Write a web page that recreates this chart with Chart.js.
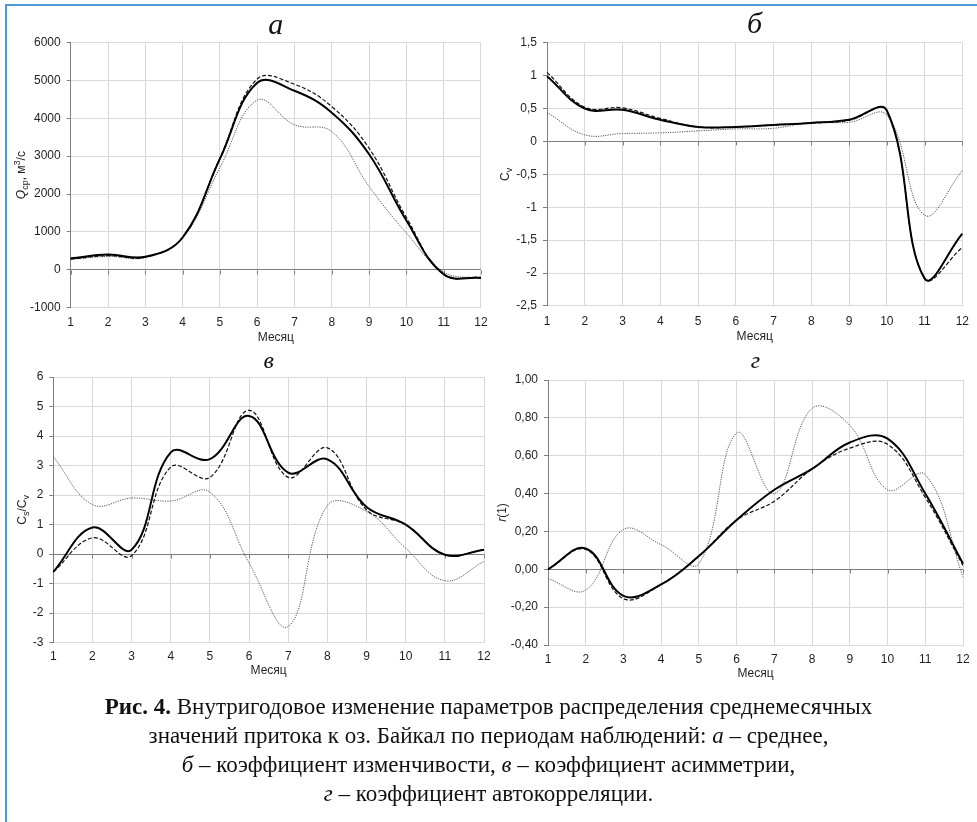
<!DOCTYPE html>
<html>
<head>
<meta charset="utf-8">
<script src="https://cdn.jsdelivr.net/npm/chart.js@4/dist/chart.umd.min.js"></script>
<style>
  body { margin: 0; background: #fff; }
  #wrap { position: relative; width: 977px; height: 822px; overflow: hidden; background: #fff; }
  #frame { position: absolute; left: 5px; top: 4px; width: 1000px; height: 900px; border: 2px solid #4c9ad8; }
  canvas.c { position: absolute; left: 0; top: 0; }
  #caption { position: absolute; left: 0; top: 692px; width: 977px; text-align: center;
             font-family: "Liberation Serif", serif; font-size: 23px; line-height: 29px; color: #111; }
</style>
</head>
<body>
<div id="wrap">
  <div id="frame"></div>
  <canvas class="c" id="chA" width="977" height="822"></canvas>
  <canvas class="c" id="chB" width="977" height="822"></canvas>
  <canvas class="c" id="chV" width="977" height="822"></canvas>
  <canvas class="c" id="chG" width="977" height="822"></canvas>
  <div id="caption"><b>Рис. 4.</b> Внутригодовое изменение параметров распределения среднемесячных<br>значений притока к оз. Байкал по периодам наблюдений: <i>а</i> – среднее,<br><i>б</i> – коэффициент изменчивости, <i>в</i> – коэффициент асимметрии,<br><i>г</i> – коэффициент автокорреляции.</div>
</div>
<script>
// months on the x axis
var months = ['1','2','3','4','5','6','7','8','9','10','11','12'];

// а – mean monthly inflow, m3/s
var meanSolid  = [300, 400, 340, 850, 2930, 4940, 4730, 4150, 3050, 1300, -120, -220];
var meanDashed = [280, 370, 330, 850, 2950, 5040, 4900, 4310, 3210, 1380, -130, -200];
var meanDotted = [270, 350, 320, 830, 2700, 4480, 3830, 3650, 2200, 970, -60, -230];

// б – coefficient of variation
var cvSolid  = [0.99, 0.50, 0.48, 0.33, 0.22, 0.22, 0.25, 0.28, 0.33, 0.47, -2.08, -1.40];
var cvDashed = [1.05, 0.52, 0.51, 0.35, 0.22, 0.22, 0.25, 0.28, 0.32, 0.47, -2.08, -1.61];
var cvDotted = [0.44, 0.10, 0.12, 0.13, 0.16, 0.19, 0.20, 0.29, 0.29, 0.40, -1.12, -0.44];

// в – Cs/Cv
var csSolid  = [-0.6, 0.9, 0.15, 3.45, 3.22, 4.68, 2.76, 3.21, 1.6, 1.0, -0.02, 0.15];
var csDashed = [-0.6, 0.55, -0.05, 2.95, 2.6, 4.87, 2.6, 3.6, 1.5, 1.0, -0.02, 0.15];
var csDotted = [3.3, 1.68, 1.9, 1.8, 2.1, -0.3, -2.45, 1.65, 1.45, 0.2, -0.9, -0.25];

// г – autocorrelation r(1)
var rSolid  = [0.0, 0.11, -0.14, -0.08, 0.07, 0.26, 0.42, 0.53, 0.67, 0.69, 0.40, 0.03];
var rDashed = [0.0, 0.105, -0.155, -0.08, 0.07, 0.26, 0.36, 0.53, 0.64, 0.66, 0.38, 0.02];
var rDotted = [-0.05, -0.11, 0.21, 0.13, 0.03, 0.72, 0.40, 0.85, 0.76, 0.42, 0.50, -0.04];

Chart.defaults.font.family = '"Liberation Sans", Arial, sans-serif';
Chart.defaults.font.size = 12;
Chart.defaults.color = '#1f1f1f';

var TENSION = 0.4;

// rotated y axis title with sub/superscripts
var yTitlePlugin = {
  id: 'yTitle',
  afterDraw: function(chart, args, opts) {
    var ctx = chart.ctx, area = chart.chartArea;
    var parts = opts.parts;
    if (!parts) return;
    var fontFor = function(p) {
      return (p.italic ? 'italic ' : '') + ((p.sub || p.sup) ? 9 : 12) + 'px "Liberation Sans", Arial, sans-serif';
    };
    ctx.save();
    ctx.translate(opts.x, (area.top + area.bottom) / 2);
    ctx.rotate(-Math.PI / 2);
    ctx.fillStyle = '#1f1f1f';
    ctx.textBaseline = 'middle';
    ctx.textAlign = 'left';
    var total = 0;
    parts.forEach(function(p) { ctx.font = fontFor(p); total += ctx.measureText(p.t).width; });
    var cx = -total / 2;
    parts.forEach(function(p) {
      ctx.font = fontFor(p);
      var dy = p.sub ? 3.5 : (p.sup ? -4 : 0);
      ctx.fillText(p.t, cx, dy);
      cx += ctx.measureText(p.t).width;
    });
    ctx.restore();
  }
};

// small tick marks hanging from the zero line, like the excel axis
var zeroTicksPlugin = {
  id: 'zeroTicks',
  beforeDatasetsDraw: function(chart) {
    var ctx = chart.ctx, xs = chart.scales.x, ys = chart.scales.y;
    var y0 = Math.round(ys.getPixelForValue(0)) + 0.5;
    ctx.save();
    ctx.strokeStyle = '#7f7f7f';
    ctx.lineWidth = 1;
    ctx.beginPath();
    for (var i = 0; i < months.length; i++) {
      var x = Math.round(xs.getPixelForValue(i)) + 0.5;
      ctx.moveTo(x, y0);
      ctx.lineTo(x, y0 + 4);
    }
    ctx.stroke();
    ctx.restore();
  }
};

function isZero(v) { return Math.abs(v) < 1e-9; }

function makeChart(id, cfg) {
  var datasets = [
    { data: cfg.solid,  borderColor: '#000', borderWidth: 2, tension: TENSION, pointRadius: 0 },
    { data: cfg.dashed, borderColor: '#111', borderWidth: 1.2, borderDash: [4, 2], tension: TENSION, pointRadius: 0 },
    { data: cfg.dotted, borderColor: '#555', borderWidth: 1, borderDash: [1.2, 1.2], tension: TENSION, pointRadius: 0 }
  ];
  var yW = 60, xH = cfg.xH, half = cfg.titleSize * 0.6;
  return new Chart(document.getElementById(id), {
    type: 'line',
    data: { labels: months, datasets: datasets },
    plugins: [yTitlePlugin, zeroTicksPlugin],
    options: {
      responsive: false,
      animation: false,
      devicePixelRatio: 1,
      layout: {
        padding: {
          left: cfg.left - yW,
          right: 977 - cfg.right,
          top: cfg.titleY - half,
          bottom: 822 - cfg.bottom - xH
        }
      },
      plugins: {
        legend: { display: false },
        tooltip: { enabled: false },
        title: {
          display: true,
          text: cfg.letter,
          fullSize: false,
          font: { family: '"Liberation Serif", serif', style: 'italic', size: cfg.titleSize, weight: 'normal' },
          color: '#111',
          padding: { top: 0, bottom: cfg.top - cfg.titleY - half }
        },
        yTitle: { x: cfg.yTitleX, parts: cfg.yParts }
      },
      scales: {
        x: {
          grid: { color: '#d9d9d9', drawTicks: false },
          border: { color: '#d9d9d9' },
          ticks: { padding: cfg.xPad, maxRotation: 0, autoSkip: false },
          title: { display: true, text: 'Месяц', padding: 0, font: { size: 12 } },
          afterFit: function(s) { s.height = xH; }
        },
        y: {
          min: cfg.min, max: cfg.max,
          grid: {
            color: function(c) { return isZero(c.tick.value) ? '#7f7f7f' : '#d9d9d9'; },
            tickColor: '#7f7f7f',
            tickLength: 4
          },
          border: { color: '#7f7f7f' },
          ticks: { stepSize: cfg.step, padding: 6, callback: cfg.fmt },
          afterFit: function(s) { s.width = yW; }
        }
      }
    }
  });
}

function fmtInt(v) { return isZero(v) ? '0' : String(Math.round(v)); }
function fmtComma(v) { return isZero(v) ? '0' : String(Math.round(v * 10) / 10).replace('.', ','); }
function fmt2(v) { return (isZero(v) ? 0 : v).toFixed(2).replace('.', ','); }

makeChart('chA', {
  letter: 'а', solid: meanSolid, dashed: meanDashed, dotted: meanDotted,
  left: 70.7, right: 481, top: 42.7, bottom: 307.5, titleY: 26, titleSize: 30, xH: 37.4, xPad: 8,
  min: -1000, max: 6000, step: 1000, fmt: fmtInt, yTitleX: 22,
  yParts: [{ t: 'Q', italic: true }, { t: 'ср', sub: true }, { t: ', м' }, { t: '3', sup: true }, { t: '/с' }]
});
makeChart('chB', {
  letter: 'б', solid: cvSolid, dashed: cvDashed, dotted: cvDotted,
  left: 547, right: 968, top: 42.7, bottom: 306, titleY: 25, titleSize: 30, xH: 37.4, xPad: 8,
  min: -2.5, max: 1.5, step: 0.5, fmt: fmtComma, yTitleX: 506,
  yParts: [{ t: 'C' }, { t: 'v', sub: true }]
});
makeChart('chV', {
  letter: 'в', solid: csSolid, dashed: csDashed, dotted: csDotted,
  left: 53.3, right: 484, top: 377, bottom: 642.7, titleY: 362, titleSize: 24, xH: 35.5, xPad: 7,
  min: -3, max: 6, step: 1, fmt: fmtInt, yTitleX: 23,
  yParts: [{ t: 'C' }, { t: 's', sub: true }, { t: '/C' }, { t: 'v', sub: true }]
});
makeChart('chG', {
  letter: 'г', solid: rSolid, dashed: rDashed, dotted: rDotted,
  left: 548, right: 963, top: 380, bottom: 645, titleY: 362, titleSize: 24, xH: 35.5, xPad: 7,
  min: -0.4, max: 1.0, step: 0.2, fmt: fmt2, yTitleX: 503,
  yParts: [{ t: 'r', italic: true }, { t: '(1)' }]
});
</script>
</body>
</html>
